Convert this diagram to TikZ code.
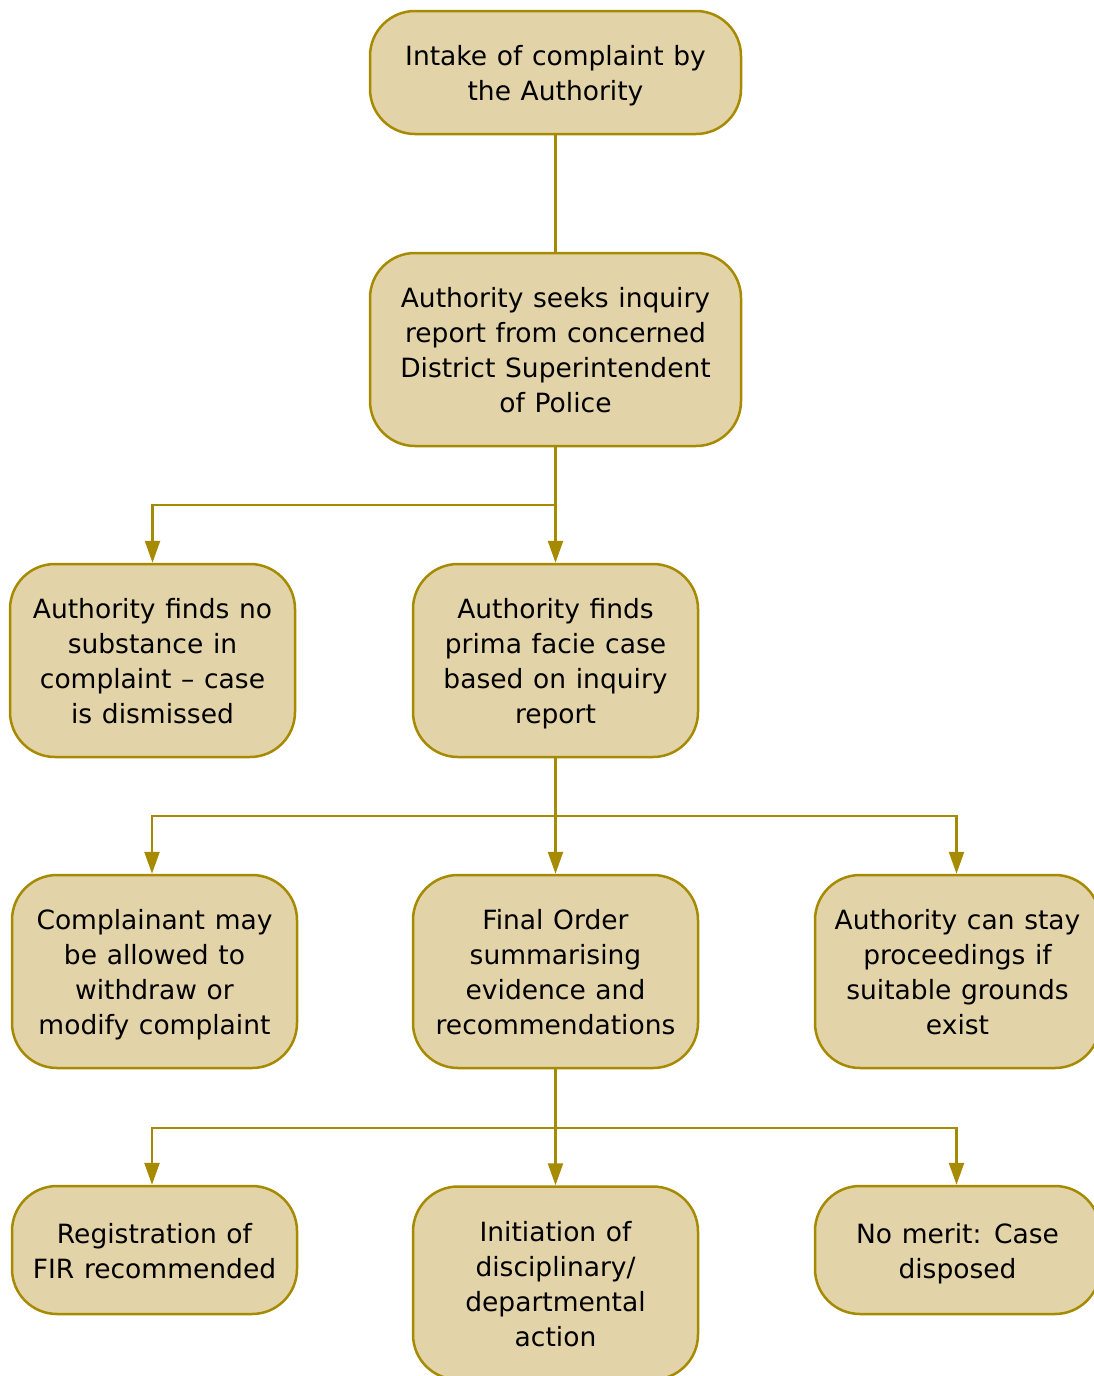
\documentclass[tikz,border=0pt]{standalone}
\usepackage{fontspec}
\setmainfont[WordSpace=1.15]{DejaVu Sans}
\usetikzlibrary{arrows.meta, positioning}
\definecolor{boxfill}{HTML}{E3D3A8}
\definecolor{boxline}{HTML}{A68A00}
\newcommand{\lift}{\rule{0pt}{31.5pt}}
\newcommand{\sink}{\rule[-10.5pt]{0pt}{10.5pt}}
\tikzset{stage/.style={draw=boxline, fill=boxfill, line width=2.5pt, rounded corners=45pt,
    align=center, font=\fontsize{26.5}{35}\selectfont, inner sep=0pt,
    minimum width=285pt, minimum height=193pt},
  link/.style={draw=boxline, line width=2.5pt},
  flow/.style={link, -{Triangle[length=22pt,width=15pt]}}}

\begin{document}
\begin{tikzpicture}[x=1pt, y=-1pt]
\useasboundingbox (0,0) rectangle (1093,1376);
%% intake and inquiry
	\node[stage, minimum width=371pt, minimum height=123pt] (intake) at (555.5,72.5) {\lift Intake of complaint by\\the Authority\sink};
	\node[stage, minimum width=371pt] (seek) at (555.5,349.5) {\lift Authority seeks inquiry\\report from concerned\\District Superintendent\\of Police\sink};
  \draw[link] (intake) -- (seek);
%% findings
	\node[stage] (dismiss) at (152.5,660.5) {\lift Authority finds no\\substance in\\complaint -- case\\is dismissed\sink};
	\node[stage] (prima) at (555.5,660.5) {\lift Authority finds\\prima facie case\\based on inquiry\\report\sink};
  \coordinate (split1) at (555.5,505);
  \draw[flow] (seek) -- (prima);
  \draw[flow] (split1) -| (dismiss);
%% after prima facie case
	\node[stage] (withdraw) at (154.5,971.5) {\lift Complainant may\\be allowed to\\withdraw or\\modify complaint\sink};
	\node[stage] (final) at (555.5,971.5) {\lift Final Order\\summarising\\evidence and\\recommendations\sink};
	\node[stage] (stay) at (957.5,971.5) {\lift Authority can stay\\proceedings if\\suitable grounds\\exist\sink};
  \coordinate (split2) at (555.5,816);
  \draw[flow] (prima) -- (final);
  \draw[flow] (split2) -| ([xshift=-2.5pt]withdraw.north);
  \draw[flow] (split2) -| ([xshift=-1pt]stay.north);
%% outcomes of final order
	\node[stage, minimum height=128pt] (fir) at (154.5,1250) {\lift Registration of\\FIR recommended\sink};
	\node[stage] (discipline) at (555.5,1283) {\lift Initiation of\\disciplinary/\\departmental\\action\sink};
	\node[stage, minimum height=128pt] (merit) at (957.5,1250) {\lift No merit: Case\\disposed\sink};
  \coordinate (split3) at (555.5,1128);
  \draw[flow] (final) -- (discipline);
  \draw[flow] (split3) -| ([xshift=-2.5pt]fir.north);
  \draw[flow] (split3) -| ([xshift=-1pt]merit.north);
\end{tikzpicture}
\end{document}
